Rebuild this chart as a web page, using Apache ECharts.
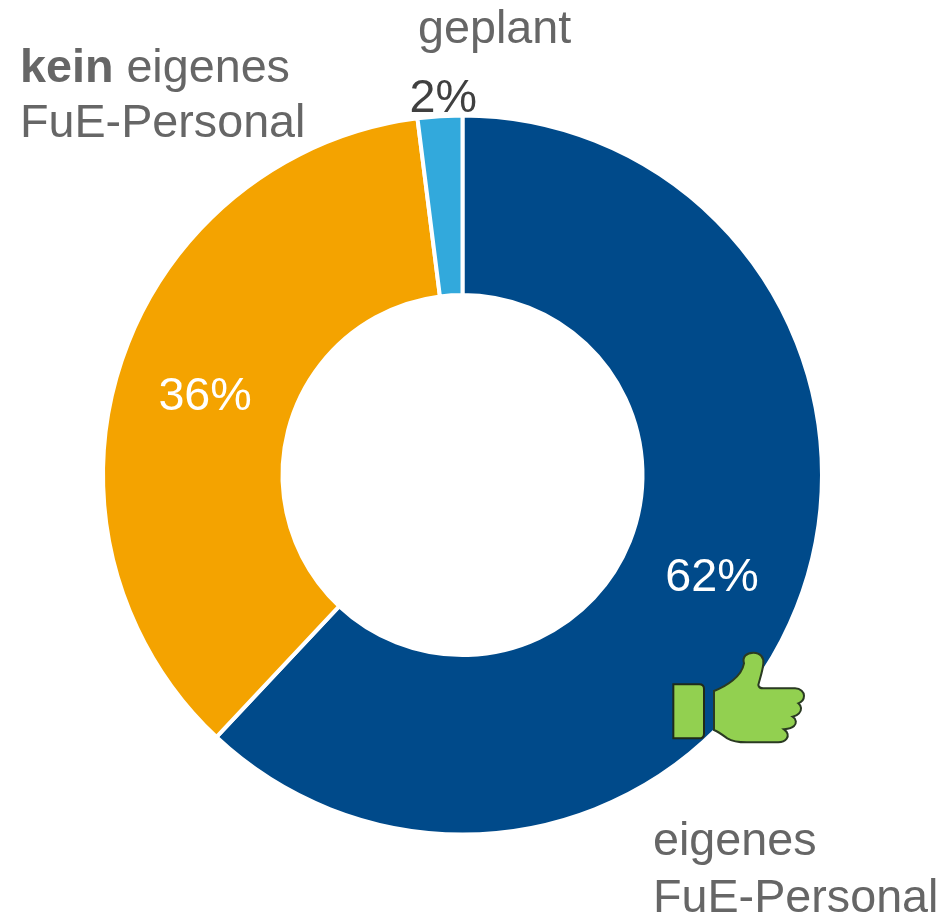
<!DOCTYPE html>
<html><head><meta charset="utf-8">
<style>html,body{margin:0;padding:0;background:#fff}#c{width:941px;height:914px}</style>
<script src="https://cdn.jsdelivr.net/npm/echarts@6/dist/echarts.min.js"></script>
</head><body><div id="c"></div>
<script>
const categories = ['eigenes FuE-Personal', 'kein eigenes FuE-Personal', 'geplant'];
const values = [62, 36, 2];
const colors = ['#004a8a', '#f4a300', '#32a9dc'];
const FONT = '"Liberation Sans", Arial, sans-serif';
const SIZE = 46.7;
const labelNudges = [[-4, 3], [2, 6], [37, -17]];
const thumbBox = 'M70 163 L148 163 Q162 163 162 177 L162 311 Q162 325 148 325 L70 325 Z';
const thumbHand = 'M192 183 C230 168 275 140 282 100 C276 80 290 68 310 68 C332 68 342 84 340 100 C338 125 328 150 325 165 C326 172 332 175 340 175 L435 175 C452 175 462 187 462 197 C462 208 455 216 445 220 C455 228 456 240 447 250 C442 256 436 258 428 260 C440 268 440 280 432 288 C424 296 412 297 402 298 C414 306 416 318 410 326 C404 334 396 337 385 337 L290 337 C262 337 245 333 232 325 C218 315 205 305 192 300 Z';

const chart = echarts.init(document.getElementById('c'), null, {renderer: 'canvas'});
chart.setOption({
  animation: false,
  backgroundColor: '#fff',
  series: [{
    type: 'pie',
    center: [462.5, 475],
    radius: [180, 359.5],
    startAngle: 90,
    clockwise: true,
    silent: true,
    itemStyle: {borderColor: '#fff', borderWidth: 4},
    label: {show: true, position: 'inside', formatter: p => p.value + '%', color: '#fff', fontSize: SIZE, fontFamily: FONT},
    labelLine: {show: false},
    data: categories.map((name, i) => ({
      name, value: values[i], itemStyle: {color: colors[i]},
      label: i === 2
        ? {position: 'outside', color: '#404040', distanceToLabelLine: 0, offset: labelNudges[i]}
        : {offset: labelNudges[i]},
      labelLine: {show: false, length: 0, length2: 0}
    }))
  }, {
    type: 'custom',
    coordinateSystem: 'none',
    silent: true,
    data: [0],
    z: 5,
    renderItem: () => ({
      type: 'group', x: 650, y: 630, scaleX: 1/3, scaleY: 1/3,
      children: [
        {type: 'path', shape: {pathData: thumbBox, x: 70, y: 163, width: 92, height: 162, layout: 'cover'}, style: {fill: '#92d050', stroke: '#1f2a1a', lineWidth: 6}},
        {type: 'path', shape: {pathData: thumbHand, x: 192, y: 68, width: 270, height: 269, layout: 'cover'}, style: {fill: '#92d050', stroke: '#2a3a22', lineWidth: 6}}
      ]
    })
  }],
  graphic: [
    {type: 'text', left: 418, top: 7, style: {text: 'geplant', fill: '#666', font: SIZE + 'px ' + FONT}},
    {type: 'text', left: 20, top: 42, style: {
      text: '{b|kein} eigenes\nFuE-Personal', fill: '#666', font: SIZE + 'px ' + FONT, lineHeight: 55,
      rich: {b: {fontWeight: 'bold', fontSize: SIZE, fontFamily: FONT, fill: '#666', lineHeight: 55}}
    }},
    {type: 'text', left: 653, top: 814, style: {text: 'eigenes\nFuE-Personal', fill: '#666', font: SIZE + 'px ' + FONT, lineHeight: 57}}
  ]
});
</script></body></html>
